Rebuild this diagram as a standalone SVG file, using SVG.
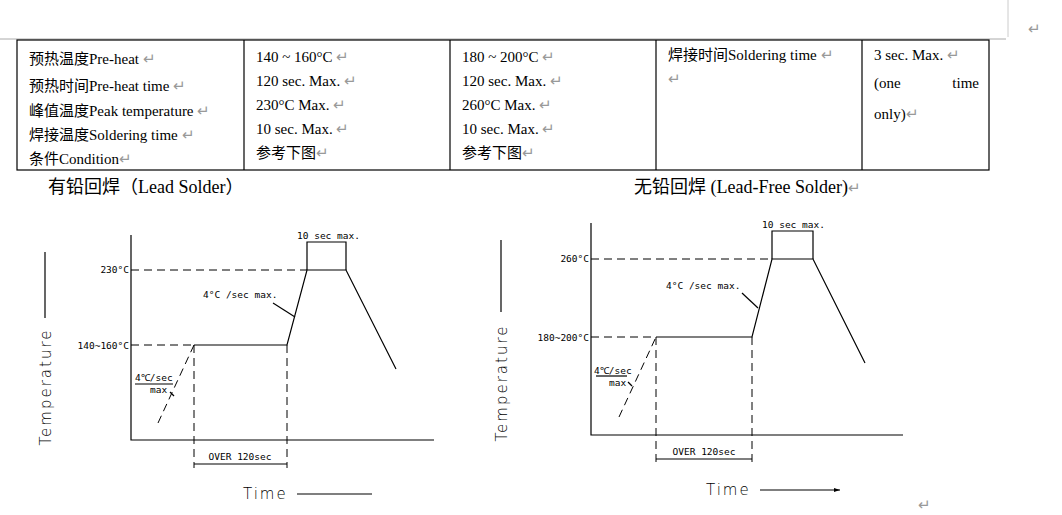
<svg xmlns="http://www.w3.org/2000/svg" width="1062" height="515" viewBox="0 0 1062 515">
<style>
.t{font-family:"Liberation Serif","Noto Sans CJK SC",serif;font-size:15px;fill:#000}
.h{font-family:"Liberation Serif","Noto Sans CJK SC",serif;font-size:18px;fill:#000}
.r{fill:#999}
.c{font-family:"DejaVu Sans Mono",monospace;font-size:9.5px;fill:#000}
.ax{font-family:"DejaVu Sans","Noto Sans",sans-serif;font-size:15px;fill:#000;letter-spacing:2px;font-weight:300}
.s{stroke:#000;stroke-width:1.2;fill:none}
.d{stroke:#000;stroke-width:1;fill:none;stroke-dasharray:8,5}
</style>
<rect width="1062" height="515" fill="#fff"/>
<g id="page">
<line x1="0" y1="39" x2="1006" y2="39" stroke="#aaa"/>
<line x1="1008" y1="0" x2="1008" y2="37" stroke="#ccc"/>
<text x="1028" y="34" class="t r">↵</text>
</g>
<g id="table">
<rect x="17" y="40" width="972" height="130" class="s" stroke-width="1"/>
<line x1="244" y1="40" x2="244" y2="170" class="s"/>
<line x1="450" y1="40" x2="450" y2="170" class="s"/>
<line x1="656" y1="40" x2="656" y2="170" class="s"/>
<line x1="862" y1="40" x2="862" y2="170" class="s"/>
<text class="t" x="29" y="64">预热温度Pre-heat <tspan class="r">↵</tspan></text>
<text class="t" x="29" y="91">预热时间Pre-heat time <tspan class="r">↵</tspan></text>
<text class="t" x="29" y="116">峰值温度Peak temperature <tspan class="r">↵</tspan></text>
<text class="t" x="29" y="140">焊接温度Soldering time <tspan class="r">↵</tspan></text>
<text class="t" x="29" y="164">条件Condition<tspan class="r">↵</tspan></text>
<text class="t" x="256" y="62">140 ~ 160°C <tspan class="r">↵</tspan></text>
<text class="t" x="256" y="86">120 sec. Max. <tspan class="r">↵</tspan></text>
<text class="t" x="256" y="110">230°C Max. <tspan class="r">↵</tspan></text>
<text class="t" x="256" y="134">10 sec. Max. <tspan class="r">↵</tspan></text>
<text class="t" x="256" y="158">参考下图<tspan class="r">↵</tspan></text>
<text class="t" x="462" y="62">180 ~ 200°C <tspan class="r">↵</tspan></text>
<text class="t" x="462" y="86">120 sec. Max. <tspan class="r">↵</tspan></text>
<text class="t" x="462" y="110">260°C Max. <tspan class="r">↵</tspan></text>
<text class="t" x="462" y="134">10 sec. Max. <tspan class="r">↵</tspan></text>
<text class="t" x="462" y="158">参考下图<tspan class="r">↵</tspan></text>
<text class="t" x="668" y="60">焊接时间Soldering time <tspan class="r">↵</tspan></text>
<text class="t r" x="668" y="84">↵</text>
<text class="t" x="874" y="60">3 sec. Max. <tspan class="r">↵</tspan></text>
<text class="t" x="874" y="88">(one</text>
<text class="t" x="979" y="88" text-anchor="end">time</text>
<text class="t" x="874" y="119">only)<tspan class="r">↵</tspan></text>
</g>
<text class="h" x="48" y="193">有铅回焊（Lead Solder）</text>
<text class="h" x="634" y="193">无铅回焊  (Lead-Free Solder)<tspan class="r" font-size="15">↵</tspan></text>
<g id="chart-lead">
<polyline class="s" points="131,235 131,440 434,440"/>
<line class="d" x1="131" y1="270" x2="307" y2="270"/>
<line class="d" x1="131" y1="345" x2="194" y2="345"/>
<polyline class="s" points="194,345 287,345 307,270 346,270 396,369"/>
<line class="d" x1="158" y1="423" x2="194" y2="345"/>
<line class="d" x1="194" y1="345" x2="194" y2="468"/>
<line class="d" x1="287" y1="345" x2="287" y2="468"/>
<line class="s" x1="194" y1="464" x2="287" y2="464"/>
<polyline class="s" points="307,270 307,242 346,242 346,270"/>
<line class="s" x1="273" y1="303" x2="295" y2="317" stroke-width="0.8"/>
<line class="s" x1="135" y1="384" x2="173" y2="384" stroke-width="0.8"/>
<line class="s" x1="170" y1="392" x2="174" y2="396" stroke-width="0.8"/>
<text class="c" x="129" y="273" text-anchor="end">230°C</text>
<text class="c" x="129" y="349" text-anchor="end">140~160°C</text>
<text class="c" x="297" y="239">10 sec max.</text>
<text class="c" x="203" y="298">4°C /sec max.</text>
<text class="c" x="135" y="381">4℃/sec</text>
<text class="c" x="150" y="393">max</text>
<text class="c" x="240" y="460" text-anchor="middle">OVER 120sec</text>
<text class="ax" transform="translate(51,387) rotate(-90)" text-anchor="middle">Temperature</text>
<line class="s" x1="45" y1="252" x2="45" y2="318"/>
<text class="ax" x="243" y="499">Time</text>
<line class="s" x1="297" y1="494" x2="372" y2="494"/>
</g>
<g id="chart-leadfree">
<polyline class="s" points="591,223 591,435 903,435"/>
<line class="d" x1="591" y1="259" x2="772" y2="259"/>
<line class="d" x1="591" y1="337" x2="656" y2="337"/>
<polyline class="s" points="656,337 752,337 772,259 813,259 865,363"/>
<line class="d" x1="619" y1="417" x2="656" y2="337"/>
<line class="d" x1="656" y1="337" x2="656" y2="463"/>
<line class="d" x1="752" y1="337" x2="752" y2="463"/>
<line class="s" x1="656" y1="459" x2="752" y2="459"/>
<polyline class="s" points="772,259 772,231 813,231 813,259"/>
<line class="s" x1="742" y1="293" x2="758" y2="308" stroke-width="0.8"/>
<line class="s" x1="596" y1="376" x2="627" y2="376" stroke-width="0.8"/>
<line class="s" x1="628" y1="382" x2="632" y2="386" stroke-width="0.8"/>
<text class="c" x="589" y="262" text-anchor="end">260°C</text>
<text class="c" x="589" y="341" text-anchor="end">180~200°C</text>
<text class="c" x="762" y="228">10 sec max.</text>
<text class="c" x="666" y="289">4°C /sec max.</text>
<text class="c" x="594" y="374">4℃/sec</text>
<text class="c" x="609" y="386">max</text>
<text class="c" x="704" y="455" text-anchor="middle">OVER 120sec</text>
<text class="ax" transform="translate(507,383) rotate(-90)" text-anchor="middle">Temperature</text>
<line class="s" x1="501" y1="240" x2="501" y2="312"/>
<text class="ax" x="706" y="495">Time</text>
<line class="s" x1="760" y1="490" x2="840" y2="490"/>
<path d="M840,490 l-6,-2 v4 z" fill="#000"/>
<text class="t r" x="918" y="510">↵</text>
</g>
</svg>
